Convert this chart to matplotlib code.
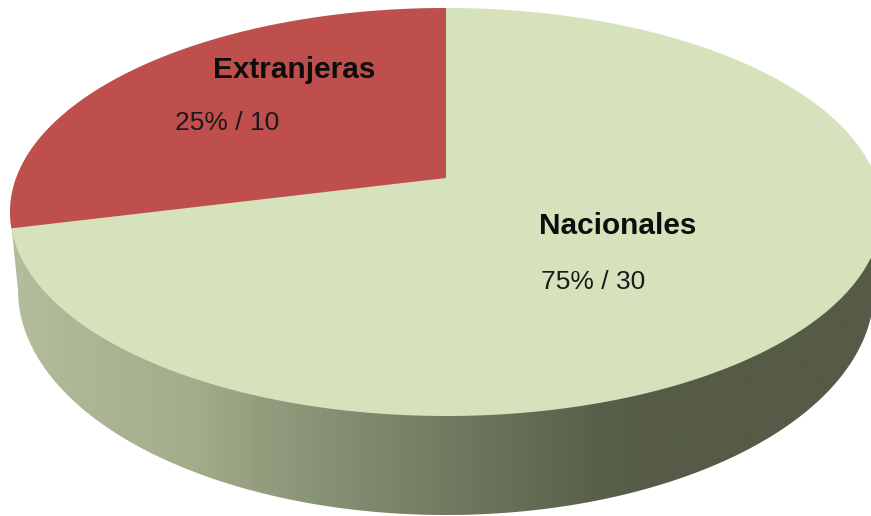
import numpy as np
import matplotlib
matplotlib.use("Agg")
import matplotlib.pyplot as plt
from matplotlib.colors import LinearSegmentedColormap
from matplotlib.patches import Polygon

# Survey counts per category
categories = ["Extranjeras", "Nacionales"]
counts = [10, 30]
percents = [25, 75]

plt.rcParams["font.family"] = ["Liberation Sans", "DejaVu Sans"]

WIDTH, HEIGHT = 871, 516
fig = plt.figure(figsize=(WIDTH / 100, HEIGHT / 100), dpi=100)
ax = fig.add_axes([0, 0, 1, 1])
ax.set_xlim(0, WIDTH)
ax.set_ylim(HEIGHT, 0)
ax.axis("off")

# Disc geometry in pixel-like axis units
TOP = dict(cx=446, cy=212, a=436, b=204)
BOTTOM = dict(cx=446, cy=290, a=428, b=225)
APEX = (446, 178)
START_ANGLE = 90
TILT_SKEW = 4.6  # the tilted view shifts the slice boundary along the rim


def rim(e, deg):
    t = np.radians(deg)
    return np.column_stack([e["cx"] + e["a"] * np.cos(t), e["cy"] - e["b"] * np.sin(t)])


# Side wall with a horizontal shading ramp
wall = np.vstack([rim(TOP, [180]), rim(BOTTOM, np.linspace(180, 360, 240)), rim(TOP, [360])])
wall_patch = Polygon(wall, closed=True, facecolor="none", edgecolor="none")
ax.add_patch(wall_patch)
ramp = LinearSegmentedColormap.from_list(
    "wall",
    [(0.00, "#b4bd9d"), (0.22, "#a3ad8b"), (0.35, "#8a9477"), (0.52, "#707a60"),
     (0.69, "#585f4a"), (0.75, "#555b47"), (1.00, "#555b47")],
)
shade = ax.imshow(np.linspace(0, 1, 871)[None, :], cmap=ramp, extent=(0, WIDTH, HEIGHT, 0),
                  aspect="auto", interpolation="bilinear", zorder=1)
shade.set_clip_path(wall_patch)

# Top face: the large slice fills the ellipse, the small slice sits on it
ax.fill(*rim(TOP, np.linspace(0, 360, 720)).T, color="#d6e2bb", lw=0, zorder=2)
frac = counts[0] / sum(counts)
arc = rim(TOP, np.linspace(START_ANGLE, START_ANGLE + 360 * frac + TILT_SKEW, 240))
slice_pts = np.vstack([[APEX], arc])
ax.fill(*slice_pts.T, color="#bf4f4c", lw=0, zorder=3)

# Category names and value captions
label_pos = {"Extranjeras": ((213, 70), (175, 123)), "Nacionales": ((539, 226), (541, 282))}
for name, count, pct in zip(categories, counts, percents):
    (nx, ny), (vx, vy) = label_pos[name]
    ax.text(nx, ny, name, fontsize=21.4, fontweight="bold", color="#0d0d0d",
            ha="left", va="center", zorder=4)
    ax.text(vx, vy, f"{pct}% / {count}", fontsize=19, color="#1a1a1a",
            ha="left", va="center", zorder=4)

fig.savefig("out.png", dpi=100)
